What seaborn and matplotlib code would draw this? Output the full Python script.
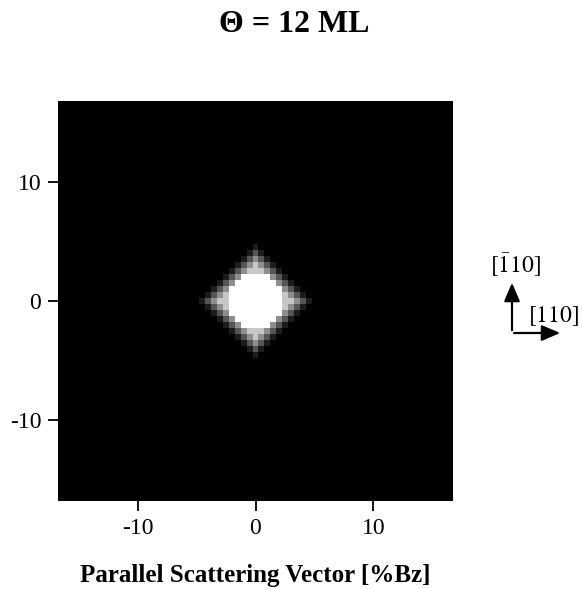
import numpy as np
import pandas as pd
import matplotlib
matplotlib.use("Agg")
import matplotlib.pyplot as plt
from matplotlib.patches import FancyArrowPatch
import seaborn as sns

# ---- data ----
title = "\u0398 = 12 ML"
xlabel = "Parallel Scattering Vector [%Bz]"
grid_step = 0.5                      # %Bz per cell
grid_half = 16.5                     # full map spans -16.5 .. 16.5 %Bz
tick_values = [-10, 0, 10]
tick_labels = ["-10", "0", "10"]
dir_up_label = r"$[\bar{1}10]$"
dir_right_label = r"$[110]$"
# central spot intensity (0..9), rows from +5 (top) to -5 (bottom) %Bz,
# columns from -5 to +5 %Bz, 0.5 %Bz steps
spot_rows = [
    "000000000000000000000",
    "000000000010000000000",
    "000000000131000000000",
    "000000001353100000000",
    "000000013575310000000",
    "000000135777531000000",
    "000001359999953100000",
    "000013599999995310000",
    "000135999999999531000",
    "001357999999999753100",
    "013577999999999775310",
    "001357999999999753100",
    "000135999999999531000",
    "000013599999995310000",
    "000001359999953100000",
    "000000135777531000000",
    "000000013575310000000",
    "000000001353100000000",
    "000000000131000000000",
    "000000000010000000000",
    "000000000000000000000",
]

# ---- build the map ----
n = int(round(2 * grid_half / grid_step)) + 1
xs = np.round(np.linspace(-grid_half, grid_half, n), 2)
ys = xs[::-1]
spot = np.array([[int(c) for c in r] for r in spot_rows], dtype=float) / 9.0
Z = np.zeros((n, n))
c0 = n // 2 - len(spot_rows) // 2
Z[c0:c0 + spot.shape[0], c0:c0 + spot.shape[1]] = spot
df = pd.DataFrame(Z, index=ys, columns=xs)

sns.set_theme(style="white")
plt.rcParams["font.family"] = ["Liberation Serif", "DejaVu Serif"]
plt.rcParams["mathtext.fontset"] = "stix"
plt.rcParams["text.color"] = "black"
plt.rcParams["axes.labelcolor"] = "black"
plt.rcParams["xtick.color"] = "black"
plt.rcParams["ytick.color"] = "black"

fig = plt.figure(figsize=(5.83, 5.89), dpi=100)
ax = fig.add_axes([58 / 583, 1 - 501 / 589, 395 / 583, 400 / 589])
sns.heatmap(df, cmap="gray", vmin=0, vmax=1, cbar=False, ax=ax,
            xticklabels=False, yticklabels=False, rasterized=True)

xpos = [list(xs).index(v) + 0.5 for v in tick_values]
ypos = [list(ys).index(v) + 0.5 for v in tick_values]
ax.set_xticks(xpos)
ax.set_xticklabels(tick_labels)
ax.set_yticks(ypos)
ax.set_yticklabels(tick_labels, rotation=0)
ax.tick_params(axis="both", direction="out", length=7, width=1.3, pad=5,
               labelsize=17, bottom=True, left=True, colors="black",
               labelcolor="black")
ax.set_xlabel(xlabel, fontsize=18, fontweight="bold", labelpad=18, color="black")
ax.set_ylabel("")

fig.text(0.505, 1 - 32 / 589, title, ha="center", va="baseline",
         fontsize=23, fontweight="bold", color="black")

# crystal direction arrows
ox, oy = 512 / 583, 1 - 333 / 589
up = FancyArrowPatch((ox, oy), (ox, 1 - 280 / 589), transform=fig.transFigure,
                     arrowstyle="-|>,head_length=0.7,head_width=0.3",
                     mutation_scale=16, color="black", lw=1.6)
right = FancyArrowPatch((ox - 0.0012, oy), (563 / 583, oy), transform=fig.transFigure,
                        arrowstyle="-|>,head_length=0.7,head_width=0.3",
                        mutation_scale=16, color="black", lw=1.6)
fig.add_artist(up)
fig.add_artist(right)
fig.text(516 / 583, 1 - 265 / 589, dir_up_label, ha="center", va="center",
         fontsize=17, color="black")
fig.text(554 / 583, 1 - 316 / 589, dir_right_label, ha="center", va="center",
         fontsize=17, color="black")

fig.savefig("out.png", dpi=100)
